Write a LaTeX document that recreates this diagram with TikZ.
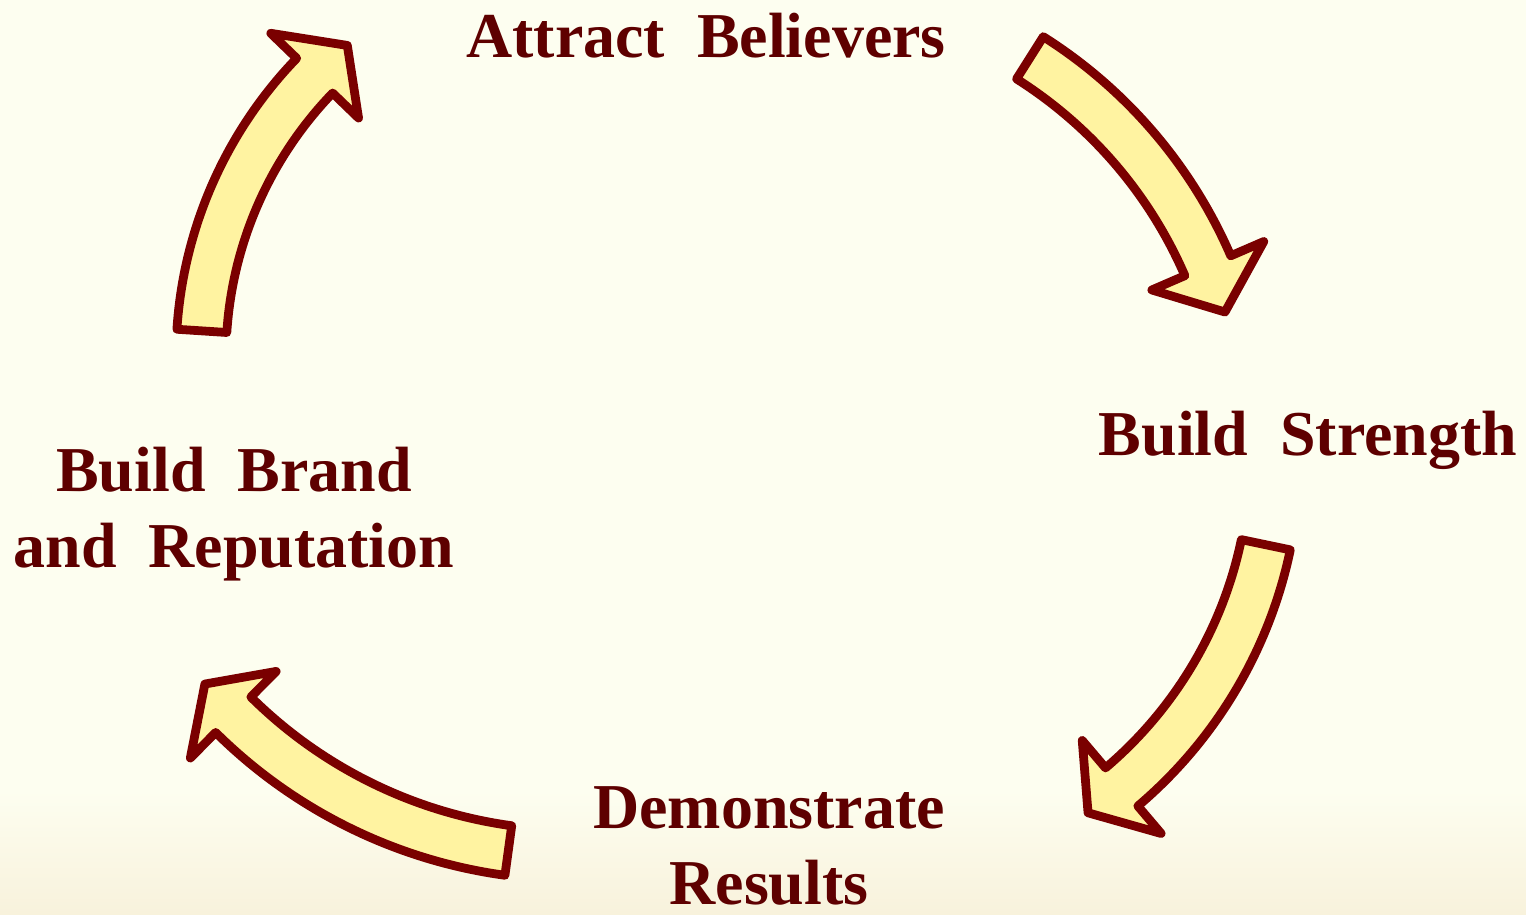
\documentclass[tikz,border=0pt]{standalone}
\usepackage{fontspec}
\setmainfont{Liberation Serif}
\usetikzlibrary{shadows}

\definecolor{paper}{RGB}{253,254,240}
\definecolor{paperdark}{RGB}{248,242,220}
\definecolor{arrowfill}{RGB}{255,243,161}
\definecolor{arrowline}{RGB}{122,0,0}
\definecolor{textred}{RGB}{94,0,0}

% curved block arrow: center, radius, tail angle, head base angle, tip angle
\newcommand{\cyclearrow}[5]{%
  \begin{scope}[shift={#1}]
    \draw[arrowbody] (#3:#2+25) arc[start angle=#3, end angle=#4, radius=#2+25]
      -- (#4:#2+61) -- (#5:#2) -- (#4:#2-61) -- (#4:#2-25)
      arc[start angle=#4, end angle=#3, radius=#2-25] -- cycle;
  \end{scope}}

\begin{document}
\begin{tikzpicture}[x=0.02cm, y=-0.02cm,
    arrowbody/.style={draw=arrowline, fill=arrowfill, line width=5pt, line join=round,
      drop shadow={shadow xshift=1.2pt, shadow yshift=-1.2pt, opacity=0.18}},
    label/.style={text=textred, font=\fontsize{36.4}{43}\selectfont\bfseries, align=center, anchor=base, inner sep=0pt}
]
\useasboundingbox (0,0) rectangle (1526,914);
\fill[paper] (0,0) rectangle (1526,914);
\shade[top color=paper, bottom color=paperdark] (0,790) rectangle (1526,914);

% the four arrows, clockwise
\cyclearrow{(606,357)}{405}{183.7}{224.0}{230.3}
\cyclearrow{(782,450)}{464}{302.3}{336.6}{342.7}
\cyclearrow{(841,456)}{434}{11.8}{49.7}{55.3}
\cyclearrow{(574,371)}{484}{97.8}{134.75}{139.7}

% stages (base = last line)
\node[label] (believers) at (706,57) {Attract\enspace Believers};
\node[label] (strength) at (1308,455) {Build\enspace Strength};
\node[label] (results) at (769,904) {Demonstrate\\Results};
\node[label] (brand) at (234,567) {Build\enspace Brand\\and\enspace Reputation};
\end{tikzpicture}
\end{document}
